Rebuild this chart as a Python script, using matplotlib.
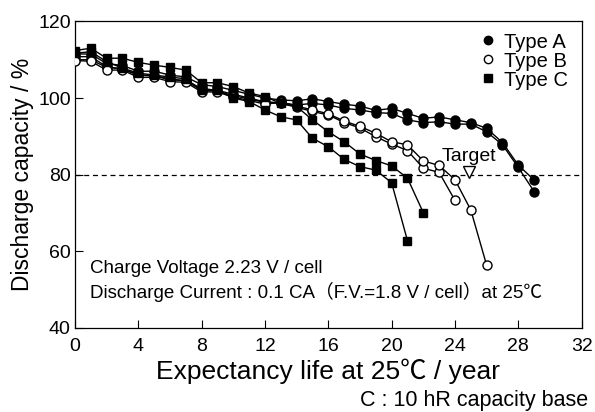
import matplotlib
matplotlib.use("Agg")
import matplotlib.pyplot as plt
from matplotlib.lines import Line2D

plt.rcParams['font.family'] = ['Liberation Sans', 'Noto Sans CJK JP', 'DejaVu Sans']

# discharge capacity (%) per year, two samples per type
a1 = [111.5, 111.5, 109, 108.5, 107, 107, 106, 105.5, 103.5, 103, 102, 101, 100, 99.5, 99.3,
      99.8, 99.1, 98.4, 97.9, 96.8, 97.3, 96.0, 94.7, 95.1, 94.3, 93.6, 92.1, 88.4, 82.5, 78.6]
a2 = [110.8, 110.8, 108.2, 107.5, 106, 105.8, 105, 104.5, 102.5, 102, 101, 100, 99, 98.8, 98.2,
      98.6, 98.2, 97.3, 96.9, 96.2, 96.0, 94.3, 93.6, 93.8, 93.2, 93.2, 91.2, 87.8, 81.9, 75.6]
b1 = [110, 110, 108, 107.7, 106, 105.8, 104.8, 104.5, 102, 101.8, 100.6, 99.8, 98.8, 98.6, 97.6,
      96.5, 95.6, 93.6, 92.2, 89.9, 88.0, 86.3, 81.7, 80.6, 73.3]
b2 = [109.8, 109.6, 107.3, 107.3, 105.4, 105.4, 104.3, 104.1, 101.6, 101.6, 100.2, 99.4, 98.4,
      98.9, 97.9, 96.9, 95.9, 94.0, 92.6, 90.8, 88.6, 87.8, 83.6, 82.4, 78.7, 70.8, 56.4]
c1 = [112.4, 113, 110.4, 110.4, 109.3, 108.6, 108, 107.3, 104, 104, 103, 101.3, 100.4, 98.6,
      97.8, 94.3, 91.2, 88.6, 85.4, 83.7, 82.3, 79.1, 70.1]
c2 = [111.7, 112.1, 109.5, 107.8, 106.5, 106, 105.5, 105, 102.1, 102, 100, 99.1, 96.9, 95.1,
      94.3, 89.5, 87.3, 84, 82.1, 81.2, 77.9, 62.8]

target_year = 24.9
target_cap = 80.6
xticks = [0, 4, 8, 12, 16, 20, 24, 28, 32]
yticks = [40, 60, 80, 100, 120]

fig = plt.figure(figsize=(5.95, 4.12), dpi=100)
ax = fig.add_axes([0.126, 0.204, 0.8515, 0.744])

ms = 6.5
for d in (a1, a2):
    ax.plot(range(len(d)), d, '-o', color='black', lw=1, ms=ms, mfc='black', mec='black', zorder=3)
for d in (b1, b2):
    ax.plot(range(len(d)), d, '-o', color='black', lw=1, ms=ms, mfc='white', mec='black', mew=1, zorder=3)
for d in (c1, c2):
    ax.plot(range(len(d)), d, '-s', color='black', lw=1, ms=ms - 0.3, mfc='black', mec='black', zorder=3)

ax.axhline(80, color='black', lw=0.9, ls=(0, (4, 3)), zorder=1)
ax.plot([target_year], [target_cap], marker='v', ms=8, mfc='white', mec='black', mew=1, ls='none', zorder=4)
ax.text(target_year, 84.8, 'Target', ha='center', va='center', fontsize=14)

ax.set_xlim(0, 32)
ax.set_ylim(40, 120)
ax.set_xticks(xticks)
ax.set_yticks(yticks)
ax.tick_params(direction='in', length=6, labelsize=14, width=0.8)
ax.tick_params(axis='x', pad=7)
ax.tick_params(axis='y', pad=3)
for s in ax.spines.values():
    s.set_linewidth(0.9)

ax.set_xlabel('Expectancy life at 25\u2103 / year', fontsize=19, labelpad=3)
ax.set_ylabel('Discharge capacity / %', fontsize=16.5, labelpad=3)

ax.text(0.95, 55.6, 'Charge Voltage 2.23 V / cell', fontsize=13.5, va='center')
ax.text(0.95, 49.4, 'Discharge Current : 0.1 CA\uff08F.V.=1.8 V / cell\uff09at 25\u2103', fontsize=13.5, va='center')

fig.text(0.988, 0.028, 'C : 10 hR capacity base', fontsize=15.5, ha='right', va='center')

handles = [
    Line2D([], [], marker='o', ls='none', color='black', mfc='black', ms=6),
    Line2D([], [], marker='o', ls='none', color='black', mfc='white', ms=6),
    Line2D([], [], marker='s', ls='none', color='black', mfc='black', ms=6),
]
ax.legend(handles, ['Type A', 'Type B', 'Type C'], loc='upper right', frameon=False,
          fontsize=14.5, handlelength=0.6, handletextpad=0.5, labelspacing=0.0,
          borderaxespad=0.0, bbox_to_anchor=(0.99, 0.99))

plt.savefig('out.png', dpi=100)
